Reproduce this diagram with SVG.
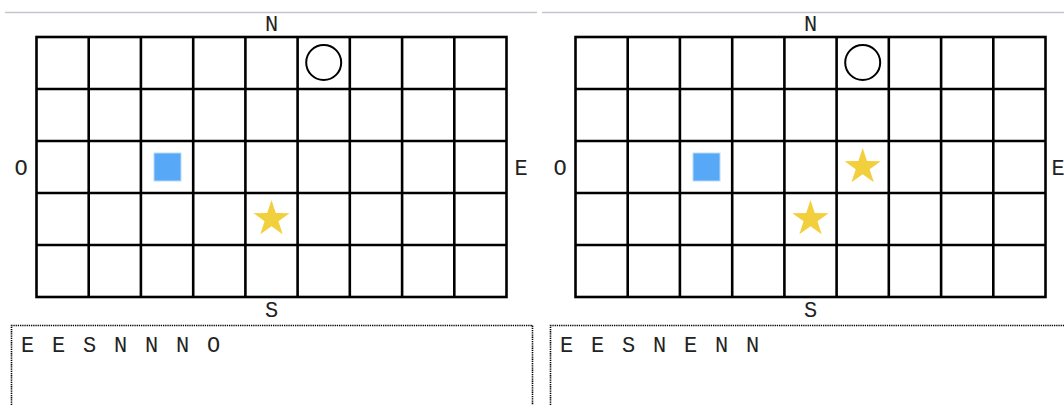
<svg xmlns="http://www.w3.org/2000/svg" width="1064" height="405" viewBox="0 0 1064 405">
<style>
.sep{stroke:#c3c6cc;stroke-width:1.5;fill:none}
.grid{stroke:#000;stroke-width:2.6;fill:none}
.lbl{font-family:"Courier New","Liberation Mono",monospace;font-size:22px;fill:#222;text-anchor:middle}
.cmd{font-family:"Courier New","Liberation Mono",monospace;font-size:22px;fill:#222;letter-spacing:2.3px}
.box{stroke:#000;stroke-width:1.6;stroke-dasharray:1.3 0.9;fill:none}
.goal{fill:none;stroke:#000;stroke-width:2}
.robot{fill:#57a8f6;stroke:#b8dafc;stroke-width:1}
.star{fill:#f2cf3d}
</style>
<defs>
<path id="starShape" d="M0,-19 L4.29,-5.9 L18.07,-5.87 L6.94,2.26 L11.17,15.37 L0,7.3 L-11.17,15.37 L-6.94,2.26 L-18.07,-5.87 L-4.29,-5.9 Z"/>
<g id="gridShape">
<rect x="36.5" y="37" width="470" height="260"/>
<path d="M88.7,37V297M140.9,37V297M193.2,37V297M245.4,37V297M297.6,37V297M349.8,37V297M402.1,37V297M454.3,37V297M36.5,89H506.5M36.5,141H506.5M36.5,193H506.5M36.5,245H506.5"/>
</g>
</defs>
<g id="panel-left">
<line class="sep" x1="5" y1="12.5" x2="537" y2="12.5"/>
<g id="grid-left" class="grid"><use href="#gridShape"/></g>
<text class="lbl" x="271.5" y="31">N</text>
<text class="lbl" x="271.5" y="317">S</text>
<text class="lbl" x="21" y="175">O</text>
<text class="lbl" x="521" y="175">E</text>
<g id="goal-left"><circle class="goal" cx="323.7" cy="62.5" r="17.5"/></g>
<g id="robot-left"><rect class="robot" x="154" y="153" width="27" height="28"/></g>
<g id="star-left-1"><use class="star" href="#starShape" transform="translate(271.5,219)"/></g>
<g id="cmd-left">
<path class="box" d="M11.5,405V325.5H532.5V405"/>
<text class="cmd" x="21" y="352">E E S N N N O</text>
</g>
</g>
<g id="panel-right" transform="translate(539,0)">
<line class="sep" x1="3" y1="12.5" x2="525" y2="12.5"/>
<g id="grid-right" class="grid"><use href="#gridShape"/></g>
<text class="lbl" x="271.5" y="31">N</text>
<text class="lbl" x="271.5" y="317">S</text>
<text class="lbl" x="21" y="175">O</text>
<text class="lbl" x="519" y="175">E</text>
<g id="goal-right"><circle class="goal" cx="323.7" cy="62.5" r="17.5"/></g>
<g id="robot-right"><rect class="robot" x="154" y="153" width="27" height="28"/></g>
<g id="star-right-1"><use class="star" href="#starShape" transform="translate(323.7,167)"/></g>
<g id="star-right-2"><use class="star" href="#starShape" transform="translate(271.5,219)"/></g>
<g id="cmd-right">
<path class="box" d="M11.5,405V325.5H540"/>
<text class="cmd" x="21" y="352">E E S N E N N</text>
</g>
</g>
<g id="connectors"/>
</svg>
